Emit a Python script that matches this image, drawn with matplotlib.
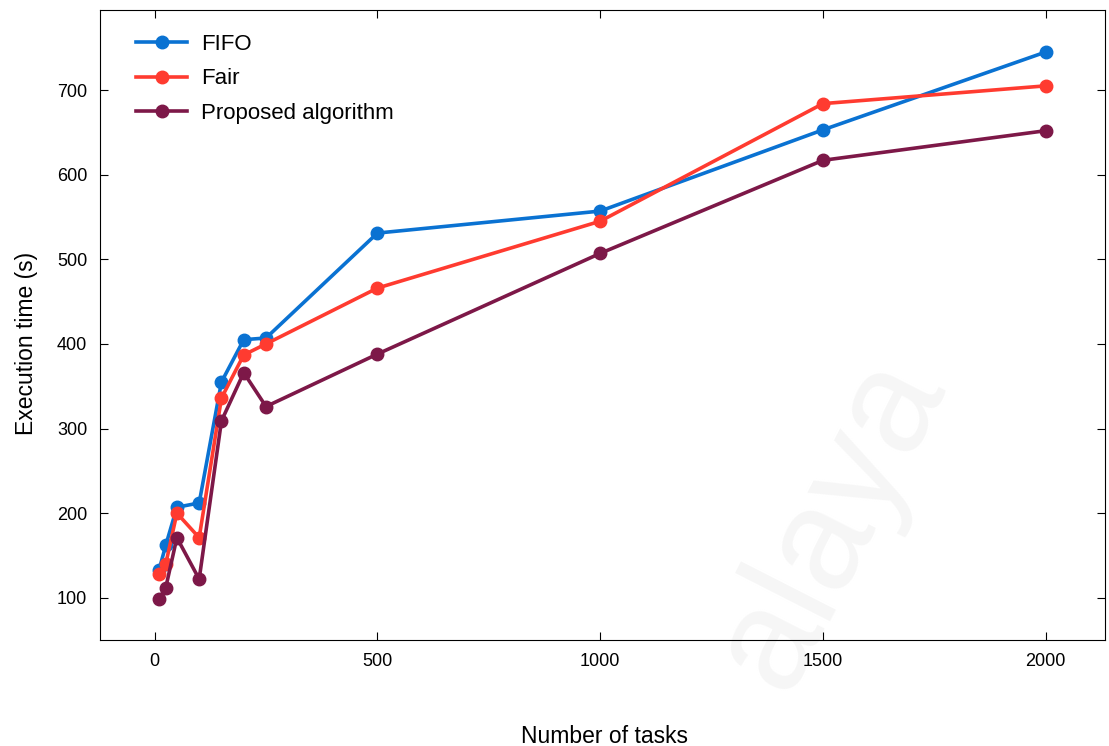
import matplotlib.pyplot as plt

plt.rcParams['font.family'] = ['Liberation Sans', 'DejaVu Sans']

# data
tasks = [10, 25, 50, 100, 150, 200, 250, 500, 1000, 1500, 2000]
fifo = [133, 162, 207, 212, 355, 405, 407, 531, 557, 653, 745]
fair = [128, 140, 200, 171, 336, 387, 400, 466, 545, 684, 705]
proposed = [98, 112, 171, 122, 309, 366, 326, 388, 507, 617, 652]

labels = ["FIFO", "Fair", "Proposed algorithm"]
colors = ["#0a72d2", "#ff3b30", "#7d1848"]

fig = plt.figure(figsize=(11.09, 7.46), dpi=100)
ax = fig.add_axes([0.090, 0.142, 0.906, 0.845])
ax.patch.set_alpha(0)

# faint watermark behind everything
fig.text(0.75, 0.30, "alaya", fontsize=105, color="#f6f6f6", rotation=63,
         ha="center", va="center", zorder=-10)

for series, lab, col in zip([fifo, fair, proposed], labels, colors):
    ax.plot(tasks, series, "-o", color=col, label=lab, linewidth=2.6,
            markersize=9)

ax.set_xlim(-123, 2132)
ax.set_ylim(50, 795)
ax.set_xticks([0, 500, 1000, 1500, 2000])
ax.set_yticks([100, 200, 300, 400, 500, 600, 700])
ax.tick_params(direction="in", top=True, right=True, length=6,
               labelsize=13, pad=9)

ax.set_xlabel("Number of tasks", fontsize=16.5)
ax.set_ylabel("Execution time (s)", fontsize=16.5)
ax.xaxis.set_label_coords(0.502, -0.135)
ax.yaxis.set_label_coords(-0.062, 0.47)

ax.legend(loc="upper left", frameon=False, fontsize=16, handlelength=2.3,
          handletextpad=0.6, borderaxespad=0.5, labelspacing=0.6,
          borderpad=0.6, bbox_to_anchor=(0.012, 1.0))

fig.savefig("out.png", dpi=100)
